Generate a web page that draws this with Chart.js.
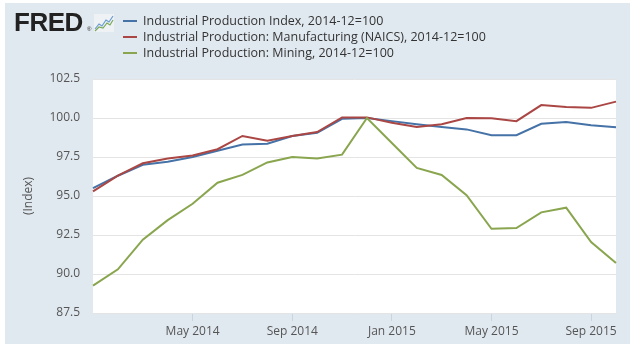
<!DOCTYPE html>
<html>
<head>
<meta charset="utf-8">
<script src="https://cdn.jsdelivr.net/npm/chart.js@4/dist/chart.umd.min.js"></script>
<style>
  html, body { margin: 0; padding: 0; background: #fff; }
  #wrap { position: relative; width: 640px; height: 347px; font-family: "Open Sans", sans-serif; }
  #chart { position: absolute; left: 0; top: 0; }
  #logo { position: absolute; left: 14px; top: 9px; font: bold 26px/1 "Liberation Sans", Arial, sans-serif; letter-spacing: -0.5px; color: #222; }
  #reg { position: absolute; left: 87px; top: 26px; font: 6px/1 "Liberation Sans", Arial, sans-serif; color: #222; }
  #icon { position: absolute; left: 94px; top: 14px; }
  #legend { position: absolute; left: 123px; top: 13px; font-size: 12.5px; color: #333; }
  .row { height: 16px; line-height: 16px; white-space: nowrap; }
  .sw { display: inline-block; width: 14px; height: 2px; margin-right: 6px; vertical-align: middle; position: relative; top: -1px; }
</style>
</head>
<body>
<div id="wrap">
  <canvas id="chart" width="640" height="347"></canvas>
  <div id="logo">FRED</div>
  <div id="reg">®</div>
  <svg id="icon" width="20" height="18" viewBox="0 0 20 18">
    <rect x="0" y="0" width="20" height="18" fill="#eef2f5"/>
    <polyline points="1,15 5,10 8,12 12,6 15,8 19,2" fill="none" stroke="#6a9bd0" stroke-width="1.2"/>
    <polyline points="1,17 5,13 9,14 13,9 16,11 19,6" fill="none" stroke="#7aa95a" stroke-width="1.2"/>
  </svg>
  <div id="legend">
    <div class="row"><span class="sw" style="background:#4572a7"></span>Industrial Production Index, 2014-12=100</div>
    <div class="row"><span class="sw" style="background:#aa4643"></span>Industrial Production: Manufacturing (NAICS), 2014-12=100</div>
    <div class="row"><span class="sw" style="background:#89a54e"></span>Industrial Production: Mining, 2014-12=100</div>
  </div>
</div>
<script>
// monthly, Jan 2014 - Oct 2015
const months = ['Jan 2014','Feb 2014','Mar 2014','Apr 2014','May 2014','Jun 2014','Jul 2014','Aug 2014',
  'Sep 2014','Oct 2014','Nov 2014','Dec 2014','Jan 2015','Feb 2015','Mar 2015','Apr 2015',
  'May 2015','Jun 2015','Jul 2015','Aug 2015','Sep 2015','Oct 2015'];
const totalIndex = [95.5, 96.3, 97.0, 97.2, 97.5, 97.9, 98.3, 98.35, 98.85, 99.05, 99.95, 100.0,
  99.8, 99.6, 99.42, 99.27, 98.9, 98.9, 99.63, 99.74, 99.53, 99.4];
const manufacturing = [95.3, 96.3, 97.1, 97.4, 97.6, 98.0, 98.85, 98.55, 98.85, 99.1, 100.04, 100.04,
  99.7, 99.42, 99.6, 100.0, 99.98, 99.8, 100.83, 100.7, 100.65, 101.05];
const mining = [89.25, 90.3, 92.2, 93.45, 94.5, 95.85, 96.35, 97.15, 97.5, 97.4, 97.65, 100.0,
  98.4, 96.8, 96.35, 95.05, 92.9, 92.95, 93.95, 94.25, 92.05, 90.7];
const yTicks = [87.5, 90.0, 92.5, 95.0, 97.5, 100.0, 102.5];

const shown = (i) => i > 0 && i % 4 === 0;

// background panel + white plot
const panel = {
  id: 'panel',
  beforeDraw(chart) {
    const { ctx, chartArea: a } = chart;
    ctx.save();
    ctx.fillStyle = '#e1e9f0';
    ctx.fillRect(5, 3, 625, 341);
    ctx.fillStyle = '#fff';
    ctx.fillRect(a.left, a.top, a.right - a.left, a.bottom - a.top);
    ctx.restore();
  }
};

const line = (label, data, color) => ({
  label, data, borderColor: color, borderWidth: 2, pointRadius: 0, tension: 0, fill: false
});

new Chart(document.getElementById('chart'), {
  type: 'line',
  data: {
    labels: months,
    datasets: [
      line('Industrial Production: Mining, 2014-12=100', mining, '#89a54e'),
      line('Industrial Production: Manufacturing (NAICS), 2014-12=100', manufacturing, '#aa4643'),
      line('Industrial Production Index, 2014-12=100', totalIndex, '#4572a7')
    ]
  },
  options: {
    responsive: false,
    animation: false,
    layout: { padding: { left: 0, top: 79, right: 24, bottom: 0 } },
    plugins: { legend: { display: false }, tooltip: { enabled: false } },
    scales: {
      x: {
        afterFit: (s) => { s.height = 34; },
        border: { display: false },
        grid: {
          drawOnChartArea: false, drawTicks: true, tickLength: 8,
          color: (c) => shown(c.index) ? '#c9d4de' : 'rgba(0,0,0,0)'
        },
        ticks: {
          autoSkip: false, maxRotation: 0, padding: 3, color: '#555',
          font: { family: 'Open Sans', size: 12 },
          callback: (v, i) => shown(i) ? months[i] : ''
        }
      },
      y: {
        min: yTicks[0], max: yTicks[yTicks.length - 1],
        afterFit: (s) => { s.width = 93; },
        afterBuildTicks: (s) => { s.ticks = yTicks.map(v => ({ value: v })); },
        border: { display: false },
        grid: { color: '#e4e4e4', drawTicks: false },
        ticks: {
          padding: 13, color: '#555',
          font: { family: 'Open Sans', size: 12 },
          callback: (v) => v.toFixed(1)
        },
        title: {
          display: true, text: '(Index)', color: '#555',
          font: { family: 'Open Sans', size: 12 },
          padding: { top: 21, bottom: 0 }
        }
      }
    }
  },
  plugins: [panel]
});
</script>
</body>
</html>
